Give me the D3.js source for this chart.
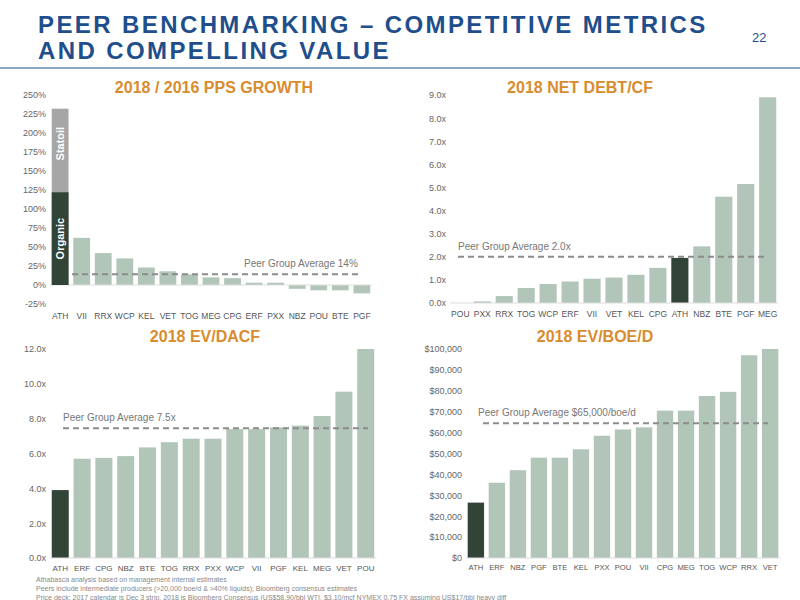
<!DOCTYPE html>
<html><head><meta charset="utf-8">
<script src="https://cdn.jsdelivr.net/npm/d3@7"></script>
<style>body{margin:0;background:#fff}text{font-family:"Liberation Sans",Arial,sans-serif}</style>
</head><body>
<svg id="c" width="800" height="600"></svg>
<script>
// chart data
const ppsCats = ["ATH","VII","RRX","WCP","KEL","VET","TOG","MEG","CPG","ERF","PXX","NBZ","POU","BTE","PGF"]
const ppsVals = [232,62,42,35,23,18,14,10,9,3,3,-5,-7,-7,-11]
const ppsOrganic = 122
const ppsTicks = [-25,0,25,50,75,100,125,150,175,200,225,250]

const debtCats = ["POU","PXX","RRX","TOG","WCP","ERF","VII","VET","KEL","CPG","ATH","NBZ","BTE","PGF","MEG"]
const debtVals = [0,0.07,0.3,0.65,0.82,0.93,1.05,1.1,1.22,1.52,1.95,2.45,4.6,5.15,8.9]
const debtTicks = [0,1,2,3,4,5,6,7,8,9]

const dacfCats = ["ATH","ERF","CPG","NBZ","BTE","TOG","RRX","PXX","WCP","VII","PGF","KEL","MEG","VET","POU"]
const dacfVals = [3.9,5.7,5.75,5.85,6.35,6.65,6.85,6.85,7.4,7.4,7.5,7.6,8.15,9.55,12.0]
const dacfTicks = [0,2,4,6,8,10,12]

const boeCats = ["ATH","ERF","NBZ","PGF","BTE","KEL","PXX","POU","VII","CPG","MEG","TOG","WCP","RRX","VET"]
const boeVals = [26500,36000,42000,48000,48000,52000,58500,61500,62500,70500,70500,77500,79500,97000,100000]
const boeTicks = [0,10000,20000,30000,40000,50000,60000,70000,80000,90000,100000]

const LIGHT = "#b1c5b9", DARK = "#324437", GREY = "#a6a6a6", ORANGE = "#d98c2e", BLUE = "#1f4e8c"
const svg = d3.select("#c")

// header
svg.append("text").attr("x",38).attr("y",33).attr("fill",BLUE).attr("font-size",24).attr("font-weight","bold")
  .attr("letter-spacing",2.4).text("PEER BENCHMARKING – COMPETITIVE METRICS")
svg.append("text").attr("x",38).attr("y",59).attr("fill",BLUE).attr("font-size",24).attr("font-weight","bold")
  .attr("letter-spacing",2.4).text("AND COMPELLING VALUE")
svg.append("text").attr("x",752).attr("y",42).attr("fill",BLUE).attr("font-size",13).text("22")
svg.append("line").attr("x1",0).attr("x2",800).attr("y1",68).attr("y2",68).attr("stroke",BLUE).attr("stroke-width",1)

function chart(o){
  const x = d3.scaleBand().domain(o.cats).range([o.x0,o.x1]).paddingInner(0.22).paddingOuter(0.08)
  const y = d3.scaleLinear().domain(o.domain).range([o.y1,o.y0])
  const g = svg.append("g")
  const ax = g.append("g").attr("transform",`translate(${o.x0-4},0)`)
    .call(d3.axisLeft(y).tickValues(o.ticks).tickFormat(o.fmt).tickSize(0).tickPadding(0))
  ax.select(".domain").remove()
  ax.selectAll("text").attr("fill","#666").attr("font-size",9)
  g.selectAll("rect.b").data(o.cats).join("rect")
    .attr("x",d=>x(d)).attr("width",x.bandwidth())
    .attr("y",(d,i)=>y(Math.max(0,o.vals[i]))).attr("height",(d,i)=>Math.abs(y(o.vals[i])-y(0)))
    .attr("fill",d=>d==="ATH"?(o.split?GREY:DARK):LIGHT)
  g.append("line").attr("x1",o.x0).attr("x2",o.x1).attr("y1",y(0)).attr("y2",y(0)).attr("stroke","#ddd")
  const xa = g.append("g").attr("transform",`translate(0,${o.labelY})`)
    .call(d3.axisBottom(x).tickSize(0).tickPadding(0))
  xa.select(".domain").remove()
  xa.selectAll("text").attr("fill","#555").attr("font-size",o.lf||9)
  g.append("line").attr("x1",o.avgX0).attr("x2",o.avgX1).attr("y1",y(o.avg)).attr("y2",y(o.avg))
    .attr("stroke","#8c8c8c").attr("stroke-width",2).attr("stroke-dasharray","6,4")
  g.append("text").attr("x",o.avgTx).attr("y",y(o.avg)-7).attr("fill","#777").attr("font-size",10).text(o.avgLabel)
  svg.append("text").attr("x",o.tx).attr("y",o.ty).attr("text-anchor","middle").attr("fill",ORANGE)
    .attr("font-size",16).attr("font-weight","bold").text(o.title)
  return {x,y,g}
}

const c1 = chart({cats:ppsCats,vals:ppsVals,domain:[-25,250],ticks:ppsTicks,fmt:d=>d+"%",x0:50,x1:372,y0:95,y1:304,
  labelY:313,avg:14,avgX0:52,avgX1:362,avgTx:244,avgLabel:"Peer Group Average 14%",split:true,lf:8.5,
  tx:214,ty:93,title:"2018 / 2016 PPS GROWTH"})
// organic part of ATH
const ax1 = c1.x("ATH")
c1.g.append("rect").attr("x",ax1).attr("width",c1.x.bandwidth()).attr("y",c1.y(ppsOrganic)).attr("height",c1.y(0)-c1.y(ppsOrganic)).attr("fill",DARK)
const mx = ax1+c1.x.bandwidth()/2+4
c1.g.append("text").attr("transform",`translate(${mx},${c1.y(61)}) rotate(-90)`).attr("text-anchor","middle")
  .attr("fill","#fff").attr("font-size",11).attr("font-weight","bold").text("Organic")
c1.g.append("text").attr("transform",`translate(${mx},${c1.y(186)}) rotate(-90)`).attr("text-anchor","middle")
  .attr("fill","#fff").attr("font-size",11).attr("font-weight","bold").text("Statoil")

chart({cats:debtCats,vals:debtVals,domain:[0,9],ticks:debtTicks,fmt:d=>d.toFixed(1)+"x",x0:450,x1:778,y0:95,y1:303,
  labelY:311,avg:2,avgX0:458,avgX1:768,avgTx:458,avgLabel:"Peer Group Average 2.0x",lf:8.5,
  tx:580,ty:93,title:"2018 NET DEBT/CF"})

chart({cats:dacfCats,vals:dacfVals,domain:[0,12],ticks:dacfTicks,fmt:d=>d.toFixed(1)+"x",x0:50,x1:376,y0:349,y1:558,
  labelY:565,avg:7.45,avgX0:63,avgX1:368,avgTx:63,avgLabel:"Peer Group Average 7.5x",lf:8,
  tx:205,ty:342,title:"2018 EV/DACF"})

chart({cats:boeCats,vals:boeVals,domain:[0,100000],ticks:boeTicks,fmt:d=>"$"+d3.format(",")(d),x0:466,x1:780,y0:349,y1:558,
  labelY:565,avg:64500,avgX0:483,avgX1:768,avgTx:478,avgLabel:"Peer Group Average $65,000/boe/d",lf:7.6,
  tx:595,ty:342,title:"2018 EV/BOE/D"})

const notes = ["Athabasca analysis based on management internal estimates",
  "Peers include intermediate producers (>20,000 boe/d & >40% liquids); Bloomberg consensus estimates",
  "Price deck: 2017 calendar is Dec 3 strip, 2018 is Bloomberg Consensus (US$58.90/bbl WTI, $3.10/mcf NYMEX 0.75 FX assuming US$17/bbl  heavy diff"]
svg.selectAll("text.note").data(notes).join("text").attr("x",36).attr("y",(d,i)=>582+i*9)
  .attr("font-size",7).attr("fill","#888").text(d=>d)
</script>
</body></html>
